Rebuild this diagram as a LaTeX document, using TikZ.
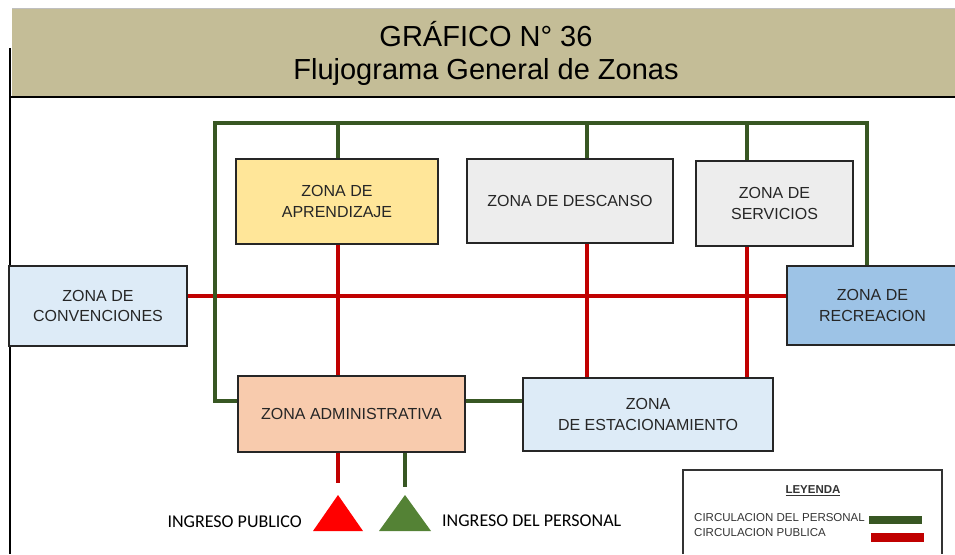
\documentclass[tikz,border=0pt]{standalone}
\usepackage{fontspec}
\setmainfont{Liberation Sans}
\newfontfamily\ingresofont{Carlito}
\usepackage{xcolor}
\usepackage{tikz}
\usetikzlibrary{positioning, calc}
\definecolor{headertan}{RGB}{196, 189, 151}
\definecolor{personalgreen}{RGB}{56, 87, 35}
\definecolor{publicred}{RGB}{192, 0, 0}
\definecolor{trigreen}{RGB}{84, 130, 53}
\definecolor{trired}{RGB}{255, 0, 0}
\definecolor{zonayellow}{RGB}{255, 230, 153}
\definecolor{zonagray}{RGB}{237, 237, 237}
\definecolor{zonalight}{RGB}{221, 235, 247}
\definecolor{zonablue}{RGB}{157, 195, 230}
\definecolor{zonaorange}{RGB}{248, 203, 173}
\definecolor{boxborder}{RGB}{38, 38, 38}
\tikzstyle{zona} = [
    rectangle,
    draw=boxborder,
    line width=1.4pt,
    align=center,
    inner sep=0pt,
    text=black!85,
    font=\fontsize{16}{20.5}\selectfont
]
\tikzstyle{personal} = [
    line width=4pt,
    color=personalgreen
]
\tikzstyle{publico} = [
    line width=4pt,
    color=publicred
]
\tikzstyle{ingreso} = [
    inner sep=0pt,
    font=\ingresofont\fontsize{18}{20}\selectfont
]
\tikzstyle{leyenda} = [
    inner sep=0pt,
    text=black!80,
    font=\fontsize{11.5}{13}\selectfont
]

\begin{document}
\begin{tikzpicture}[x=1pt, y=-1pt]
        \useasboundingbox (0,0) rectangle (955,554);
        % Header
        \fill[headertan] (12,8) rectangle (955,97);
        \draw[gray!50, line width=0.8pt] (12,8) -- (955,8);
        \draw[line width=1.5pt] (10,97) -- (955,97);
        \draw[line width=1.5pt] (10,48) -- (10,554);
        \node[align=center, inner sep=0pt, font=\fontsize{29}{33}\selectfont] (title) at (486, 53) {GRÁFICO N° 36\\Flujograma General de Zonas};

        % Zones
        \node[zona, fill=zonayellow, minimum width=202pt, minimum height=85pt] (aprend) at (337, 201.5) {ZONA DE\\APRENDIZAJE};
        \node[zona, fill=zonagray, minimum width=206pt, minimum height=84pt] (descanso) at (570, 201) {ZONA DE DESCANSO};
        \node[zona, fill=zonagray, minimum width=157pt, minimum height=85pt] (servicios) at (774.5, 203.5) {ZONA DE\\SERVICIOS};
        \node[zona, fill=zonalight, minimum width=178pt, minimum height=80pt] (convenc) at (98, 306) {ZONA DE\\CONVENCIONES};
        \node[zona, fill=zonablue, minimum width=171pt, minimum height=79pt] (recreac) at (872.5, 305.5) {ZONA DE\\RECREACION};
        \node[zona, fill=zonaorange, minimum width=227pt, minimum height=76pt] (admin) at (351.5, 414) {ZONA ADMINISTRATIVA};
        \node[zona, fill=zonalight, minimum width=250pt, minimum height=73pt] (estac) at (648, 414.5) {ZONA\\DE ESTACIONAMIENTO};

        % Route points
        \coordinate (gtl) at (215, 123);
        \coordinate (gtr) at (867, 123);
        \coordinate (gbl) at (215, 401);
        \coordinate (rowred) at (0, 296);
        \coordinate (colA) at (338, 0);
        \coordinate (colB) at (587, 0);
        \coordinate (colC) at (747, 0);
        \coordinate (pubend) at (338, 483);
        \coordinate (perend) at (405, 487);

        % Public circulation
        \draw[publico] (rowred -| convenc.east) -- (rowred -| recreac.west);
        \draw[publico] (colA |- aprend.south) -- (colA |- admin.north);
        \draw[publico] (colB |- descanso.south) -- (colB |- estac.north);
        \draw[publico] (colC |- servicios.south) -- (colC |- estac.north);
        \draw[publico] (pubend |- admin.south) -- (pubend);

        % Staff circulation
        \draw[personal] (gbl -| admin.west) -- (gbl) -- (gtl) -- (gtr) -- (gtr |- recreac.north);
        \draw[personal] (colA |- gtl) -- (colA |- aprend.north);
        \draw[personal] (colB |- gtl) -- (colB |- descanso.north);
        \draw[personal] (colC |- gtl) -- (colC |- servicios.north);
        \draw[personal] (gbl -| admin.east) -- (gbl -| estac.west);
        \draw[personal] (perend |- admin.south) -- (perend);

        % Entrances
        \fill[trired] (313, 531) -- (338, 495) -- (363, 531) -- cycle;
        \fill[trigreen] (379, 531) -- (405, 495) -- (431, 531) -- cycle;
        \node[ingreso, anchor=east] (ingpub) at (302, 522) {INGRESO PUBLICO};
        \node[ingreso, anchor=west] (ingper) at (442, 521) {INGRESO DEL PERSONAL};

        % Legend
        \draw[line width=1.2pt, black!80] (683, 554) -- (683, 470) -- (942, 470) -- (942, 554);
        \node[leyenda, font=\bfseries\fontsize{11.5}{13}\selectfont] (leytitle) at (813, 491) {\underline{LEYENDA}};
        \node[leyenda, anchor=west] (leyper) at (694, 518) {CIRCULACION DEL PERSONAL};
        \node[leyenda, anchor=west] (leypub) at (694, 533) {CIRCULACION PUBLICA};
        \fill[personalgreen] (869, 516) rectangle (922, 524);
        \fill[publicred] (871, 533) rectangle (924, 542);
    \end{tikzpicture}
\end{document}
